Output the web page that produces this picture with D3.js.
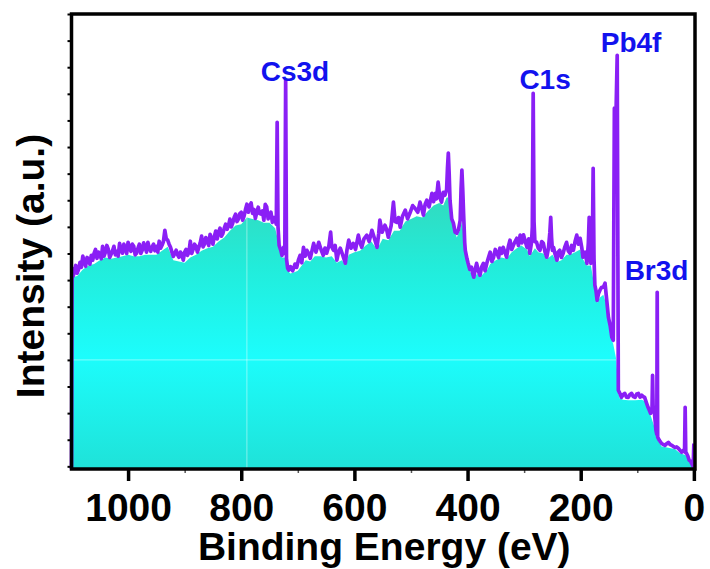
<!DOCTYPE html>
<html>
<head>
<meta charset="utf-8">
<script src="https://cdn.jsdelivr.net/npm/d3@7"></script>
<style>
  body { margin: 0; background: #fff; }
  svg { display: block; }
</style>
</head>
<body>
<svg id="chart" width="710" height="569"></svg>
<script>

// XPS survey spectrum (binding energy in eV, intensity in arbitrary kcounts)
const lineEV = [
  1100, 1099, 1097, 1095, 1092.5, 1090, 1087.5, 1085, 1082.5, 1080, 1077.5, 1075, 1072.5, 1070, 1067.5, 1065,
  1062.5, 1060, 1057.5, 1055, 1052.5, 1050, 1047.5, 1045, 1042.5, 1040, 1037.5, 1035, 1032.5, 1030, 1027.5, 1025,
  1022.5, 1020, 1017.5, 1015, 1012.5, 1010, 1007.5, 1005, 1002.5, 1000, 997.5, 995, 992.5, 990, 987.5, 985,
  982.5, 980, 977.5, 975, 972.5, 970, 967.5, 965, 962.5, 960, 957.5, 955, 952.5, 950, 947.5, 945,
  942.5, 940, 937.5, 935, 932.5, 930, 927.5, 925, 922.5, 920, 917.5, 915, 912.5, 910, 907.5, 905,
  902.5, 900, 897.5, 895, 892.5, 890, 887.5, 885, 882.5, 880, 877.5, 875, 872.5, 870, 867.5, 865,
  862.5, 860, 857.5, 855, 852.5, 850, 847.5, 845, 842.5, 840, 837.5, 835, 832.5, 830, 827.5, 825,
  822.5, 820, 817.5, 815, 812.5, 810, 807.5, 805, 802.5, 800, 797.5, 795, 792.5, 790, 787.5, 785,
  782.5, 780, 777.5, 775, 772.5, 770, 767.5, 765, 762.5, 760, 757.5, 755, 752.5, 750, 747.5, 745,
  742.5, 740, 738, 736.5, 735, 733, 730, 728, 725, 723, 721.5, 720, 718, 716, 713, 709,
  705, 702, 699, 696, 693, 690, 687, 684, 681, 678, 675, 672, 668, 663, 659, 655,
  652, 649, 645, 642, 640, 637, 634, 631, 628, 625, 620, 616, 613, 610, 606, 602,
  598, 593, 590, 587, 583, 578, 574, 569, 565, 560, 557, 555, 551, 546, 543, 540,
  535, 531, 528, 525, 522, 519, 515, 510, 506, 502, 497, 493, 488, 484, 481, 478,
  475, 472, 468, 463, 460, 457, 455, 452, 449, 446, 443, 440, 437, 435.5, 434, 432.5,
  431, 428, 425, 422, 419, 416, 413, 411.5, 410, 408.5, 407, 405, 404, 401, 399, 396,
  393, 391, 389, 386, 384, 381, 378, 375, 372, 369, 366, 363, 360, 357, 354, 351,
  348, 345, 343, 340, 337, 334, 331, 328, 325, 322, 319, 316, 313, 310, 307, 304,
  301, 298, 295, 292, 290, 287, 285.5, 284, 282.5, 281, 278, 275, 272, 269, 266, 263,
  260, 257, 254.5, 253, 251.5, 250, 248, 245, 242, 240, 237, 234, 231, 228, 225, 222,
  219, 216, 213, 210, 207, 204, 201, 198, 196, 192, 189, 186.5, 185, 183.5, 182, 179.5,
  178, 176.5, 175, 173, 171, 168.5, 166, 163, 160, 157, 154, 151, 148, 145, 142.5, 140.5,
  139, 135.5, 133.5, 131, 128, 125, 122, 119, 116, 113, 110, 107, 104, 101, 98, 95,
  92, 89.5, 87, 84, 81, 78.5, 76.5, 74, 73, 72, 70.5, 67, 65.5, 64.8, 64, 61,
  57, 54, 51, 48, 45, 42, 39, 36, 33.5, 30.5, 27.5, 24.5, 21.5, 19, 16.5, 15.4,
  14.3, 13, 10.5, 8.3, 6, 4, 1.2, 0
];
const lineCounts = [
  -1, 74.4, 71.5, 73.3, 75.5, 72.6, 74.0, 76.7, 74.8, 79.0, 77.0, 75.2, 78.5, 77.8, 76.0, 79.3,
  77.5, 80.1, 81.5, 78.2, 80.5, 79.7, 78.0, 82.7, 79.0, 80.5, 83.0, 81.6, 78.5, 79.7, 81.0, 82.7,
  79.5, 80.8, 79.0, 83.8, 81.5, 80.1, 83.5, 82.0, 80.0, 84.2, 82.0, 80.8, 83.5, 82.7, 79.5, 80.1,
  82.0, 83.5, 80.0, 81.2, 84.0, 82.7, 80.5, 84.2, 82.0, 80.8, 82.5, 83.5, 81.0, 82.7, 80.5, 84.6,
  82.0, 83.1, 84.5, 88.7, 85.5, 85.0, 83.5, 82.3, 80.5, 78.9, 80.0, 81.2, 79.5, 78.6, 80.5, 79.7,
  77.5, 80.5, 81.5, 79.3, 80.5, 84.6, 80.0, 81.6, 83.5, 82.7, 80.5, 82.3, 84.0, 86.5, 82.5, 83.5,
  86.0, 84.6, 83.0, 87.2, 85.5, 83.5, 86.5, 88.4, 85.5, 88.0, 89.5, 86.5, 87.5, 89.5, 91.0, 89.1,
  90.5, 92.9, 90.0, 91.4, 93.5, 94.8, 92.0, 92.9, 95.0, 95.5, 92.5, 94.0, 96.5, 98.5, 95.5, 97.8,
  99.0, 95.1, 96.5, 93.2, 95.5, 97.4, 95.0, 94.8, 96.0, 92.5, 98.5, 97.5, 93.0, 94.0, 95.5, 91.7,
  93.5, 92.5, 91.0, 129.3, 90.0, 83.0, 81.2, 79.3, 82.3, 80.0, 145.1, 78.0, 74.5, 73.7, 75.0, 73.5,
  76.0, 74.8, 77.5, 79.3, 76.5, 82.3, 79.0, 81.2, 80.0, 78.2, 81.0, 83.8, 80.5, 84.2, 81.5, 79.3,
  82.0, 80.1, 83.0, 88.0, 82.5, 81.2, 83.0, 77.5, 80.5, 82.0, 79.0, 76.3, 81.5, 85.0, 82.0, 83.8,
  81.5, 86.9, 84.0, 82.3, 85.5, 86.9, 84.5, 88.7, 86.0, 82.3, 87.5, 92.5, 88.0, 90.6, 89.0, 86.1,
  90.5, 99.3, 92.0, 91.7, 93.5, 89.9, 94.0, 96.3, 93.0, 95.1, 98.0, 97.0, 95.5, 99.3, 97.0, 94.4,
  98.5, 100.0, 97.5, 102.6, 99.5, 102.6, 100.5, 106.8, 101.0, 99.3, 103.0, 101.9, 104.0, 112.0, 117.7, 110.0,
  100.0, 93.0, 91.4, 88.0, 87.6, 89.0, 92.5, 104.0, 111.3, 104.0, 95.0, 84.0, 81.2, 78.0, 76.3, 74.0,
  74.8, 72.5, 71.1, 74.5, 76.3, 73.5, 71.8, 75.0, 76.3, 73.5, 76.3, 78.5, 80.5, 77.0, 78.6, 81.5,
  80.1, 78.5, 82.0, 80.0, 82.3, 80.5, 78.6, 82.5, 85.0, 81.5, 83.1, 84.5, 85.7, 83.0, 86.9, 84.0,
  87.0, 84.5, 82.3, 85.5, 80.0, 84.0, 90.0, 140.2, 92.0, 84.5, 84.2, 82.0, 81.2, 84.5, 83.8, 80.5,
  78.6, 82.0, 88.0, 93.6, 86.0, 81.2, 82.3, 79.5, 77.5, 80.5, 81.2, 78.5, 80.1, 82.5, 84.2, 81.0,
  80.1, 83.0, 81.2, 84.5, 86.9, 83.5, 85.7, 82.0, 78.6, 80.5, 76.3, 84.0, 93.6, 80.0, 76.3, 80.0,
  112.0, 78.0, 68.1, 66.0, 62.4, 65.0, 66.2, 67.3, 67.3, 68.8, 62.4, 56.0, 53.0, 48.5, 47.4, 134.6,
  118.0, 154.5, 28.6, 27.5, 25.9, 27.0, 27.4, 26.0, 25.9, 27.0, 27.4, 26.2, 25.9, 27.2, 27.4, 26.0,
  26.7, 26.2, 25.9, 24.0, 22.2, 21.0, 19.9, 21.0, 34.2, 22.0, 22.2, 13.5, 12.0, 65.4, 11.0, 9.8,
  8.6, 8.2, 7.9, 8.5, 9.0, 8.2, 7.9, 7.4, 7.1, 7.3, 6.8, 6.0, 5.3, 6.0, 5.5, 22.2,
  5.0, 4.9, 3.8, 2.3, 2.0, 1.1, 0, 8.6
];

// smoothed lower envelope that carries the cyan fill
const fillEV = [
  1100, 1090, 1080, 1070, 1060, 1050, 1040, 1030, 1020, 1010, 1000, 990, 980, 970, 960, 950,
  940, 930, 920, 910, 900, 890, 880, 870, 860, 850, 840, 830, 820, 810, 800, 790,
  780, 770, 760, 750, 745, 740, 735, 733, 728, 723, 718, 713, 705, 700, 693, 686,
  678, 670, 660, 650, 640, 631, 622, 616, 610, 600, 590, 580, 570, 560, 550, 540,
  530, 520, 510, 500, 490, 480, 470, 460, 450, 443, 437, 434, 430, 425, 419, 413,
  410, 406, 404, 400, 395, 389, 383, 378, 372, 366, 360, 350, 340, 331, 322, 313,
  305, 295, 290, 281, 275, 266, 260, 250, 242, 234, 225, 219, 210, 201, 196, 189,
  182, 176, 171, 166, 160, 155, 151, 148, 145, 142.5, 137, 133, 131, 125, 116, 104,
  92, 87, 81, 76, 70, 63, 57, 45, 33, 25, 19, 13, 8, 4, 1, 0
];
const fillCounts = [
  71.0, 71.5, 74.0, 75.5, 76.0, 77.5, 78.5, 78.0, 78.5, 79.0, 79.5, 79.0, 79.0, 79.5, 79.5, 79.5,
  81.0, 82.5, 77.5, 77.0, 76.5, 78.5, 79.5, 81.0, 82.0, 82.5, 84.5, 86.0, 88.5, 90.5, 91.0, 93.5,
  93.0, 92.5, 91.5, 91.5, 90.5, 89.5, 85.0, 82.0, 78.5, 78.5, 73.5, 72.5, 73.0, 73.5, 75.5, 77.5,
  77.0, 79.0, 79.0, 78.5, 79.0, 76.5, 77.5, 75.5, 79.5, 80.5, 81.0, 83.0, 84.5, 81.5, 85.5, 85.0,
  88.5, 88.5, 92.0, 93.0, 94.0, 93.5, 96.0, 98.0, 99.0, 98.0, 101.0, 101.0, 95.0, 89.5, 86.0, 89.0,
  92.0, 86.0, 79.5, 75.5, 73.0, 70.5, 72.5, 71.0, 72.5, 73.5, 76.0, 77.5, 78.5, 78.0, 80.5, 82.0,
  83.0, 81.5, 79.0, 82.0, 80.5, 80.0, 77.8, 79.5, 76.8, 77.5, 79.5, 79.5, 80.5, 81.5, 77.8, 75.5,
  75.5, 68.0, 61.5, 63.5, 64.5, 61.0, 55.0, 52.0, 47.5, 46.0, 40.0, 27.0, 25.5, 25.0, 24.8, 24.8,
  25.0, 24.5, 21.0, 18.8, 15.0, 9.5, 7.5, 7.0, 6.4, 5.0, 4.5, 4.0, 1.8, 0.6, 0, -1
];

const xTicks = [1000, 800, 600, 400, 200, 0];
const xMinorTicks = [900, 700, 500, 300, 100];

const peakNames = ["Cs3d", "C1s", "Pb4f", "Br3d"];
const peakLabelEV = [705, 263, 111, 66];
const peakLabelLevel = [145, 142, 155.7, 70];

const svg = d3.select("#chart");
const fontFamily = "'Liberation Sans', Arial, Helvetica, sans-serif";

const x = d3.scaleLinear().domain([1100, -2]).range([71.5, 695]);
const y = d3.scaleLinear().domain([-1, 170]).range([469, 14]);

const spectrum = d3.zip(lineEV, lineCounts);
const envelope = d3.zip(fillEV, fillCounts);

// gradient for the area
const defs = svg.append("defs");
const grad = defs.append("linearGradient")
    .attr("id", "fillGrad")
    .attr("gradientUnits", "userSpaceOnUse")
    .attr("x1", 0).attr("x2", 0)
    .attr("y1", y(105)).attr("y2", y(-1));
grad.append("stop").attr("offset", "0%").attr("stop-color", "#34d8bb");
grad.append("stop").attr("offset", "28%").attr("stop-color", "#22ecda");
grad.append("stop").attr("offset", "60%").attr("stop-color", "#1cfdfc");
grad.append("stop").attr("offset", "100%").attr("stop-color", "#1fe2d8");

const area = d3.area()
    .x(d => x(d[0]))
    .y0(y(-1))
    .y1(d => y(d[1]));

defs.append("clipPath").attr("id", "fillClip")
    .append("path").attr("d", area(envelope));

svg.append("path")
    .datum(envelope)
    .attr("d", area)
    .attr("fill", "url(#fillGrad)");

// faint seams seen in the original fill
const seams = svg.append("g").attr("clip-path", "url(#fillClip)")
    .attr("stroke", "#ffffff").attr("stroke-opacity", 0.45).attr("stroke-width", 1);
seams.append("line")
    .attr("x1", x(1100)).attr("x2", x(0))
    .attr("y1", y(40)).attr("y2", y(40));
seams.append("line")
    .attr("x1", x(790)).attr("x2", x(790))
    .attr("y1", y(170)).attr("y2", y(-1));

// spectrum line
svg.append("path")
    .datum(spectrum)
    .attr("fill", "none")
    .attr("stroke", "#8a1ff5")
    .attr("stroke-width", 3.7)
    .attr("stroke-linejoin", "round")
    .attr("d", d3.line()
        .x(d => x(d[0]))
        .y(d => y(d[1])));

// peak labels
svg.append("g")
    .selectAll("text")
    .data(peakNames)
    .join("text")
    .attr("x", (d, i) => x(peakLabelEV[i]))
    .attr("y", (d, i) => y(peakLabelLevel[i]))
    .attr("text-anchor", "middle")
    .attr("font-family", fontFamily)
    .attr("font-weight", "bold")
    .attr("font-size", "28px")
    .attr("fill", "#1212ee")
    .text(d => d);

// minor x ticks
const xMinor = svg.append("g")
    .attr("transform", "translate(0," + y(-1) + ")")
    .call(d3.axisBottom(x).tickValues(xMinorTicks).tickSize(4).tickFormat(""));
xMinor.select(".domain").remove();
xMinor.selectAll(".tick line").attr("stroke", "#555").attr("stroke-width", 1.5);

// major x ticks
const xAxis = svg.append("g")
    .attr("transform", "translate(0," + y(-1) + ")")
    .call(d3.axisBottom(x).tickValues(xTicks).tickSize(12).tickPadding(12).tickFormat(d3.format("d")));
xAxis.select(".domain").remove();
xAxis.selectAll(".tick line").attr("stroke", "#000").attr("stroke-width", 3.5);
xAxis.selectAll(".tick text")
    .attr("fill", "#000")
    .attr("font-family", fontFamily)
    .attr("font-weight", "bold")
    .attr("font-size", "39px");

// y ticks, no labels
const yAxis = svg.append("g")
    .attr("transform", "translate(" + x(1100) + ",0)")
    .call(d3.axisLeft(y).tickValues(d3.range(0, 171, 10)).tickSize(4).tickFormat(""));
yAxis.select(".domain").remove();
yAxis.selectAll(".tick line").attr("stroke", "#000").attr("stroke-width", 2);

// frame
svg.append("rect")
    .attr("x", x(1100))
    .attr("y", y(170))
    .attr("width", x(-2) - x(1100))
    .attr("height", y(-1) - y(170))
    .attr("fill", "none")
    .attr("stroke", "#000")
    .attr("stroke-width", 3.5);

// axis titles
svg.append("text")
    .attr("x", (x(1100) + x(-2)) / 2 + 1)
    .attr("y", 560)
    .attr("text-anchor", "middle")
    .attr("font-family", fontFamily)
    .attr("font-weight", "bold")
    .attr("font-size", "39px")
    .text("Binding Energy (eV)");

svg.append("text")
    .attr("transform", "translate(44," + 266 + ") rotate(-90)")
    .attr("text-anchor", "middle")
    .attr("font-family", fontFamily)
    .attr("font-weight", "bold")
    .attr("font-size", "39px")
    .text("Intensity (a.u.)");

</script>
</body>
</html>
